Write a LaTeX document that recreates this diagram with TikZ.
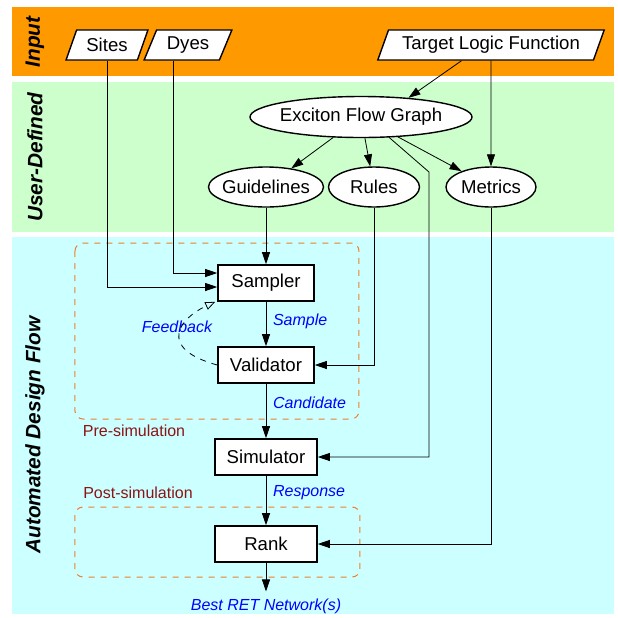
\documentclass[tikz,border=0pt]{standalone}
\usepackage{fontspec}
\setmainfont{Liberation Sans}
\usetikzlibrary{arrows.meta,shapes.geometric,calc}
\definecolor{inputbg}{RGB}{255,153,0}
\definecolor{userbg}{RGB}{204,255,204}
\definecolor{autobg}{RGB}{204,255,255}
\definecolor{phaseline}{RGB}{240,125,45}
\definecolor{phasetext}{RGB}{140,20,20}
\tikzset{
    inbox/.style={trapezium,trapezium left angle=66,trapezium right angle=114,trapezium stretches=true,
        draw,line width=0.7pt,fill=white,minimum height=15pt,inner sep=1pt,font=\fontsize{9.3}{11}\selectfont},
    oval/.style={ellipse,draw,line width=0.7pt,fill=white,inner xsep=-2pt,inner ysep=0pt,minimum height=20pt,font=\fontsize{9.3}{11}\selectfont},
    stage/.style={rectangle,draw,line width=0.8pt,fill=white,minimum width=48pt,minimum height=18pt,font=\fontsize{9.3}{11}\selectfont},
    arrow/.style={-{Triangle[length=6pt,width=4pt]},line width=0.4pt},
    fback/.style={dashed,-{Triangle[open,length=5pt,width=4pt]},line width=0.4pt},
    flowlbl/.style={font=\fontsize{8}{10}\selectfont\itshape,text=blue},
    phase/.style={draw=phaseline,dashed,rounded corners=4pt,line width=0.5pt},
    phaselbl/.style={font=\fontsize{8}{10}\selectfont,text=phasetext},
    band/.style={rotate=90,font=\fontsize{10.4}{12}\selectfont\bfseries\itshape}
}

\begin{document}
\begin{tikzpicture}[x=0.5pt,y=-0.5pt]
    \useasboundingbox (0,0) rectangle (618,618);
    % background bands
    \fill[inputbg] (12,7) rectangle (614,76);
    \fill[userbg] (12,82) rectangle (614,232);
    \fill[autobg] (12,237) rectangle (614,614);
    \node[band] (inlbl) at (35,42) {Input};
    \node[band] (userlbl) at (35,157) {User-Defined};
    \node[band] (autolbl) at (35,435) {Automated Design Flow};

    % phases
    \draw[phase] (75,243) rectangle (359,419);
    \draw[phase] (75,507) rectangle (360,577);
    \node[phaselbl] (prelbl) at (134,431) {Pre-simulation};
    \node[phaselbl] (postlbl) at (138,493) {Post-simulation};

    % inputs
    \node[inbox,minimum width=41pt] (sites) at (107,45) {Sites};
    \node[inbox,minimum width=44pt] (dyes) at (188,45) {Dyes};
    \node[inbox,minimum width=114pt] (tlf) at (491,45) {Target Logic Function};

    % user-defined
    \node[oval,minimum width=111pt,minimum height=20.5pt] (efg) at (361,117) {Exciton Flow Graph};
    \node[oval,minimum width=57.5pt] (guide) at (266,187) {Guidelines};
    \node[oval,minimum width=45.5pt] (rules) at (374,187) {Rules};
    \node[oval,minimum width=45pt] (metrics) at (491,187) {Metrics};

    % design flow
    \node[stage] (sampler) at (266,283) {Sampler};
    \node[stage] (valid) at (266,365) {Validator};
    \node[stage,minimum width=51pt] (sim) at (266,457) {Simulator};
    \node[stage,minimum width=51pt] (rank) at (266,544) {Rank};
    \node[flowlbl] (best) at (266,606) {Best RET Network(s)};
    \node[flowlbl] (fblbl) at (177,327) {Feedback};

    \coordinate (bend) at (429,172);

    \draw[arrow] ($(tlf.bottom left corner)!0.39!(tlf.bottom right corner)$) -- (efg.22);
    \draw[arrow] (tlf) -- (metrics);
    \draw[arrow] (efg) -- (guide);
    \draw[arrow] (efg) -- (rules);
    \draw[arrow] (efg) -- (metrics);
    \draw[arrow] (efg.-36) -- (bend) |- (sim.east);

    \draw[arrow] (sites) |- ([yshift=-2pt]sampler.west);
    \draw[arrow] ([xshift=-7.5pt]dyes.south) |- ([yshift=5pt]sampler.west);
    \draw[arrow] (guide) -- (sampler);
    \draw[arrow] (rules) |- (valid.east);
    \draw[arrow] (metrics) |- (rank.east);

    \draw[arrow] (sampler) -- node[flowlbl,right,pos=0.45] {Sample} (valid);
    \draw[arrow] (valid) -- node[flowlbl,right,pos=0.35] {Candidate} (sim);
    \draw[arrow] (sim) -- node[flowlbl,right,pos=0.35] {Response} (rank);
    \draw[arrow] (rank) -- (best);
    \draw[fback] (valid.west) .. controls (156,348) and (180,318) .. ([xshift=-1pt]sampler.south west);
\end{tikzpicture}
\end{document}
